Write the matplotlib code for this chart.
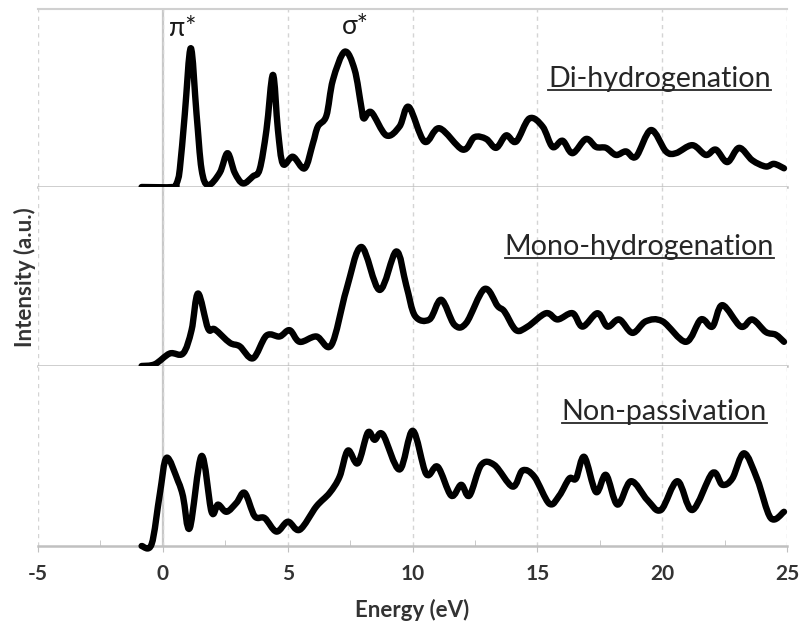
import matplotlib
matplotlib.use("Agg")
import matplotlib.pyplot as plt
from matplotlib.lines import Line2D
from matplotlib.path import Path
from matplotlib.patches import PathPatch
import numpy as np

plt.rcParams['font.family'] = ['Lato', 'DejaVu Sans']
plt.rcParams['axes.unicode_minus'] = False

# Di-hydrogenation (top panel)
di_e = [-0.85, 0.41, 0.55, 0.68, 0.88, 1.12, 1.35, 1.55, 1.81, 2.28, 2.59, 2.88, 3.21,
        3.61, 3.88, 4.15, 4.41, 4.61, 4.81, 5.21, 5.68, 6.01, 6.21, 6.55, 6.81, 7.28,
        7.68, 7.95, 8.05, 8.35, 8.95, 9.48, 9.85, 10.48, 11.08, 12.01, 12.48, 12.95,
        13.35, 13.75, 14.15, 14.68, 15.21, 15.61, 16.01, 16.41, 16.95, 17.35, 17.75,
        18.15, 18.55, 18.95, 19.55, 20.15, 20.55, 21.21, 21.75, 22.15, 22.61, 23.08,
        23.61, 24.15, 24.48, 24.88]
di_i = [0.0, 0.0, 0.02, 0.10, 0.41, 0.78, 0.41, 0.10, 0.01, 0.08, 0.19, 0.08, 0.02,
        0.06, 0.10, 0.32, 0.63, 0.32, 0.13, 0.17, 0.105, 0.245, 0.34, 0.40, 0.60, 0.76,
        0.66, 0.45, 0.385, 0.42, 0.29, 0.34, 0.45, 0.255, 0.33, 0.21, 0.28, 0.27,
        0.22, 0.29, 0.255, 0.385, 0.34, 0.225, 0.26, 0.19, 0.27, 0.225, 0.22,
        0.18, 0.20, 0.17, 0.32, 0.20, 0.19, 0.235, 0.18, 0.21, 0.14, 0.22,
        0.15, 0.115, 0.13, 0.105]

# Mono-hydrogenation (middle panel)
mono_e = [-0.85, -0.32, 0.28, 0.81, 1.15, 1.41, 1.81, 2.08, 2.68, 3.08, 3.61, 4.15, 4.68,
          5.08, 5.48, 6.15, 6.75, 7.35, 7.95, 8.68, 9.35, 9.75, 10.1, 10.68, 11.15, 11.68,
          12.15, 12.88, 13.41, 13.68, 14.15, 14.61, 15.35, 15.81, 16.41, 16.81, 17.41,
          17.81, 18.28, 18.81, 19.35, 20.01, 20.95, 21.55, 22.01, 22.41, 23.15, 23.61,
          24.15, 24.55, 24.88]
mono_i = [0.0, 0.01, 0.07, 0.07, 0.20, 0.405, 0.21, 0.205, 0.13, 0.11, 0.043, 0.17, 0.165,
          0.20, 0.135, 0.165, 0.117, 0.425, 0.665, 0.425, 0.64, 0.45, 0.28, 0.26, 0.37, 0.23,
          0.24, 0.43, 0.335, 0.305, 0.20, 0.22, 0.295, 0.26, 0.295, 0.22, 0.295,
          0.22, 0.26, 0.185, 0.25, 0.25, 0.135, 0.26, 0.22, 0.34, 0.22, 0.26,
          0.19, 0.175, 0.135]

# Non-passivation (bottom panel)
non_e = [-0.85, -0.45, -0.12, 0.15, 0.61, 0.81, 1.08, 1.55, 1.95, 2.21, 2.55, 2.95, 3.28,
         3.68, 4.08, 4.55, 5.01, 5.48, 6.15, 6.68, 7.08, 7.41, 7.81, 8.21, 8.48, 8.81,
         9.48, 10.01, 10.55, 11.01, 11.55, 11.95, 12.28, 12.75, 13.28, 14.01, 14.41,
         14.88, 15.48, 15.88, 16.28, 16.55, 16.88, 17.35, 17.75, 18.21, 18.75, 19.41,
         19.95, 20.61, 21.21, 22.01, 22.41, 22.81, 23.28, 23.81, 24.35, 24.88]
non_i = [0.0, 0.01, 0.29, 0.49, 0.36, 0.275, 0.10, 0.50, 0.19, 0.23, 0.19, 0.24, 0.295,
         0.165, 0.155, 0.08, 0.135, 0.09, 0.22, 0.295, 0.385, 0.53, 0.46, 0.63, 0.59, 0.62,
         0.425, 0.64, 0.40, 0.44, 0.28, 0.34, 0.28, 0.45, 0.45, 0.33, 0.42,
         0.385, 0.235, 0.28, 0.375, 0.375, 0.495, 0.30, 0.395, 0.23, 0.36, 0.255,
         0.20, 0.36, 0.20, 0.405, 0.34, 0.375, 0.515, 0.37, 0.155, 0.19]

labels = ["Di-hydrogenation", "Mono-hydrogenation", "Non-passivation"]
xticks = [-5, 0, 5, 10, 15, 20, 25]

W, H = 801, 632
fig = plt.figure(figsize=(W / 100, H / 100), dpi=100)

def fx(px):
    return px / W

def fy(py):
    return 1 - py / H

def smooth_path(e, v):
    # Excel-style smoothed line: bezier segments through the read points
    p = np.column_stack([e, v])
    verts = [p[0]]
    codes = [Path.MOVETO]
    n = len(p)
    for i in range(n - 1):
        p0 = p[i - 1] if i > 0 else p[i]
        p1, p2 = p[i], p[i + 1]
        p3 = p[i + 2] if i + 2 < n else p[i + 1]
        c1 = p1 + (p2 - p0) / 6.0
        c2 = p2 - (p3 - p1) / 6.0
        verts += [c1, c2, p2]
        codes += [Path.CURVE4] * 3
    return Path(verts, codes)

# panel pixel edges (top, bottom)
panels = [(9, 187), (187, 366), (366, 546)]
series = [(di_e, di_i), (mono_e, mono_i), (non_e, non_i)]
axes = []
for k, ((t, b), (e, v)) in enumerate(zip(panels, series)):
    ax = fig.add_axes([fx(38), fy(b), fx(787) - fx(38), (b - t) / H])
    ax.set_xlim(-5, 25)
    ax.set_ylim(0, 1)
    ax.set_xticks(xticks)
    ax.set_yticks([])
    ax.grid(axis='x', color='#d4d4d4', linestyle=(0, (3, 3)), linewidth=1.0)
    ax.axvline(0, color='#c8c8c8', linewidth=1.6, zorder=1)
    for s in ['left', 'right', 'top']:
        ax.spines[s].set_visible(False)
    ax.spines['bottom'].set_color('#c0c0c0')
    ax.spines['bottom'].set_linewidth(1.8)
    if k == 0:
        ax.spines['top'].set_visible(True)
        ax.spines['top'].set_color('#d0d0d0')
        ax.spines['top'].set_linewidth(1.5)
    if k < 2:
        ax.tick_params(axis='x', length=0, labelbottom=False)
    else:
        ax.set_xticks(np.arange(-2.5, 25, 5), minor=True)
        ax.tick_params(axis='x', which='major', length=4, color='#c0c0c0',
                       labelsize=15, labelcolor='#333333', pad=9)
        ax.tick_params(axis='x', which='minor', direction='in', length=4, color='#c0c0c0')
        for lab in ax.get_xticklabels():
            lab.set_fontweight('bold')
    ax.add_patch(PathPatch(smooth_path(e, v), facecolor='none', edgecolor='black',
                           linewidth=4.6, joinstyle='round', capstyle='round',
                           clip_on=False, zorder=5))
    axes.append(ax)

# panel names, underlined
name_pos = [(771, 87), (774, 255), (767, 420)]
for name, (px, py) in zip(labels, name_pos):
    txt = fig.text(fx(px), fy(py), name, ha='right', va='baseline',
                   fontsize=20.6, color='#262626')
    fig.canvas.draw()
    bb = txt.get_window_extent(fig.canvas.get_renderer())
    uy = fy(py + 3)
    fig.add_artist(Line2D([bb.x0 / W, bb.x1 / W], [uy, uy], color='#262626', linewidth=1.3))

fig.text(fx(183), fy(28), "π*", ha='center', va='center', fontsize=19, color='#1a1a1a')
fig.text(fx(355), fy(26), "σ*", ha='center', va='center', fontsize=19, color='#1a1a1a')

fig.text(fx(412), fy(610), "Energy (eV)", ha='center', va='center',
         fontsize=16, fontweight='bold', color='#333333')
fig.text(fx(25), fy(277), "Intensity (a.u.)", ha='center', va='center', rotation=90,
         fontsize=16, fontweight='bold', color='#333333')

fig.savefig("out.png", dpi=100)
